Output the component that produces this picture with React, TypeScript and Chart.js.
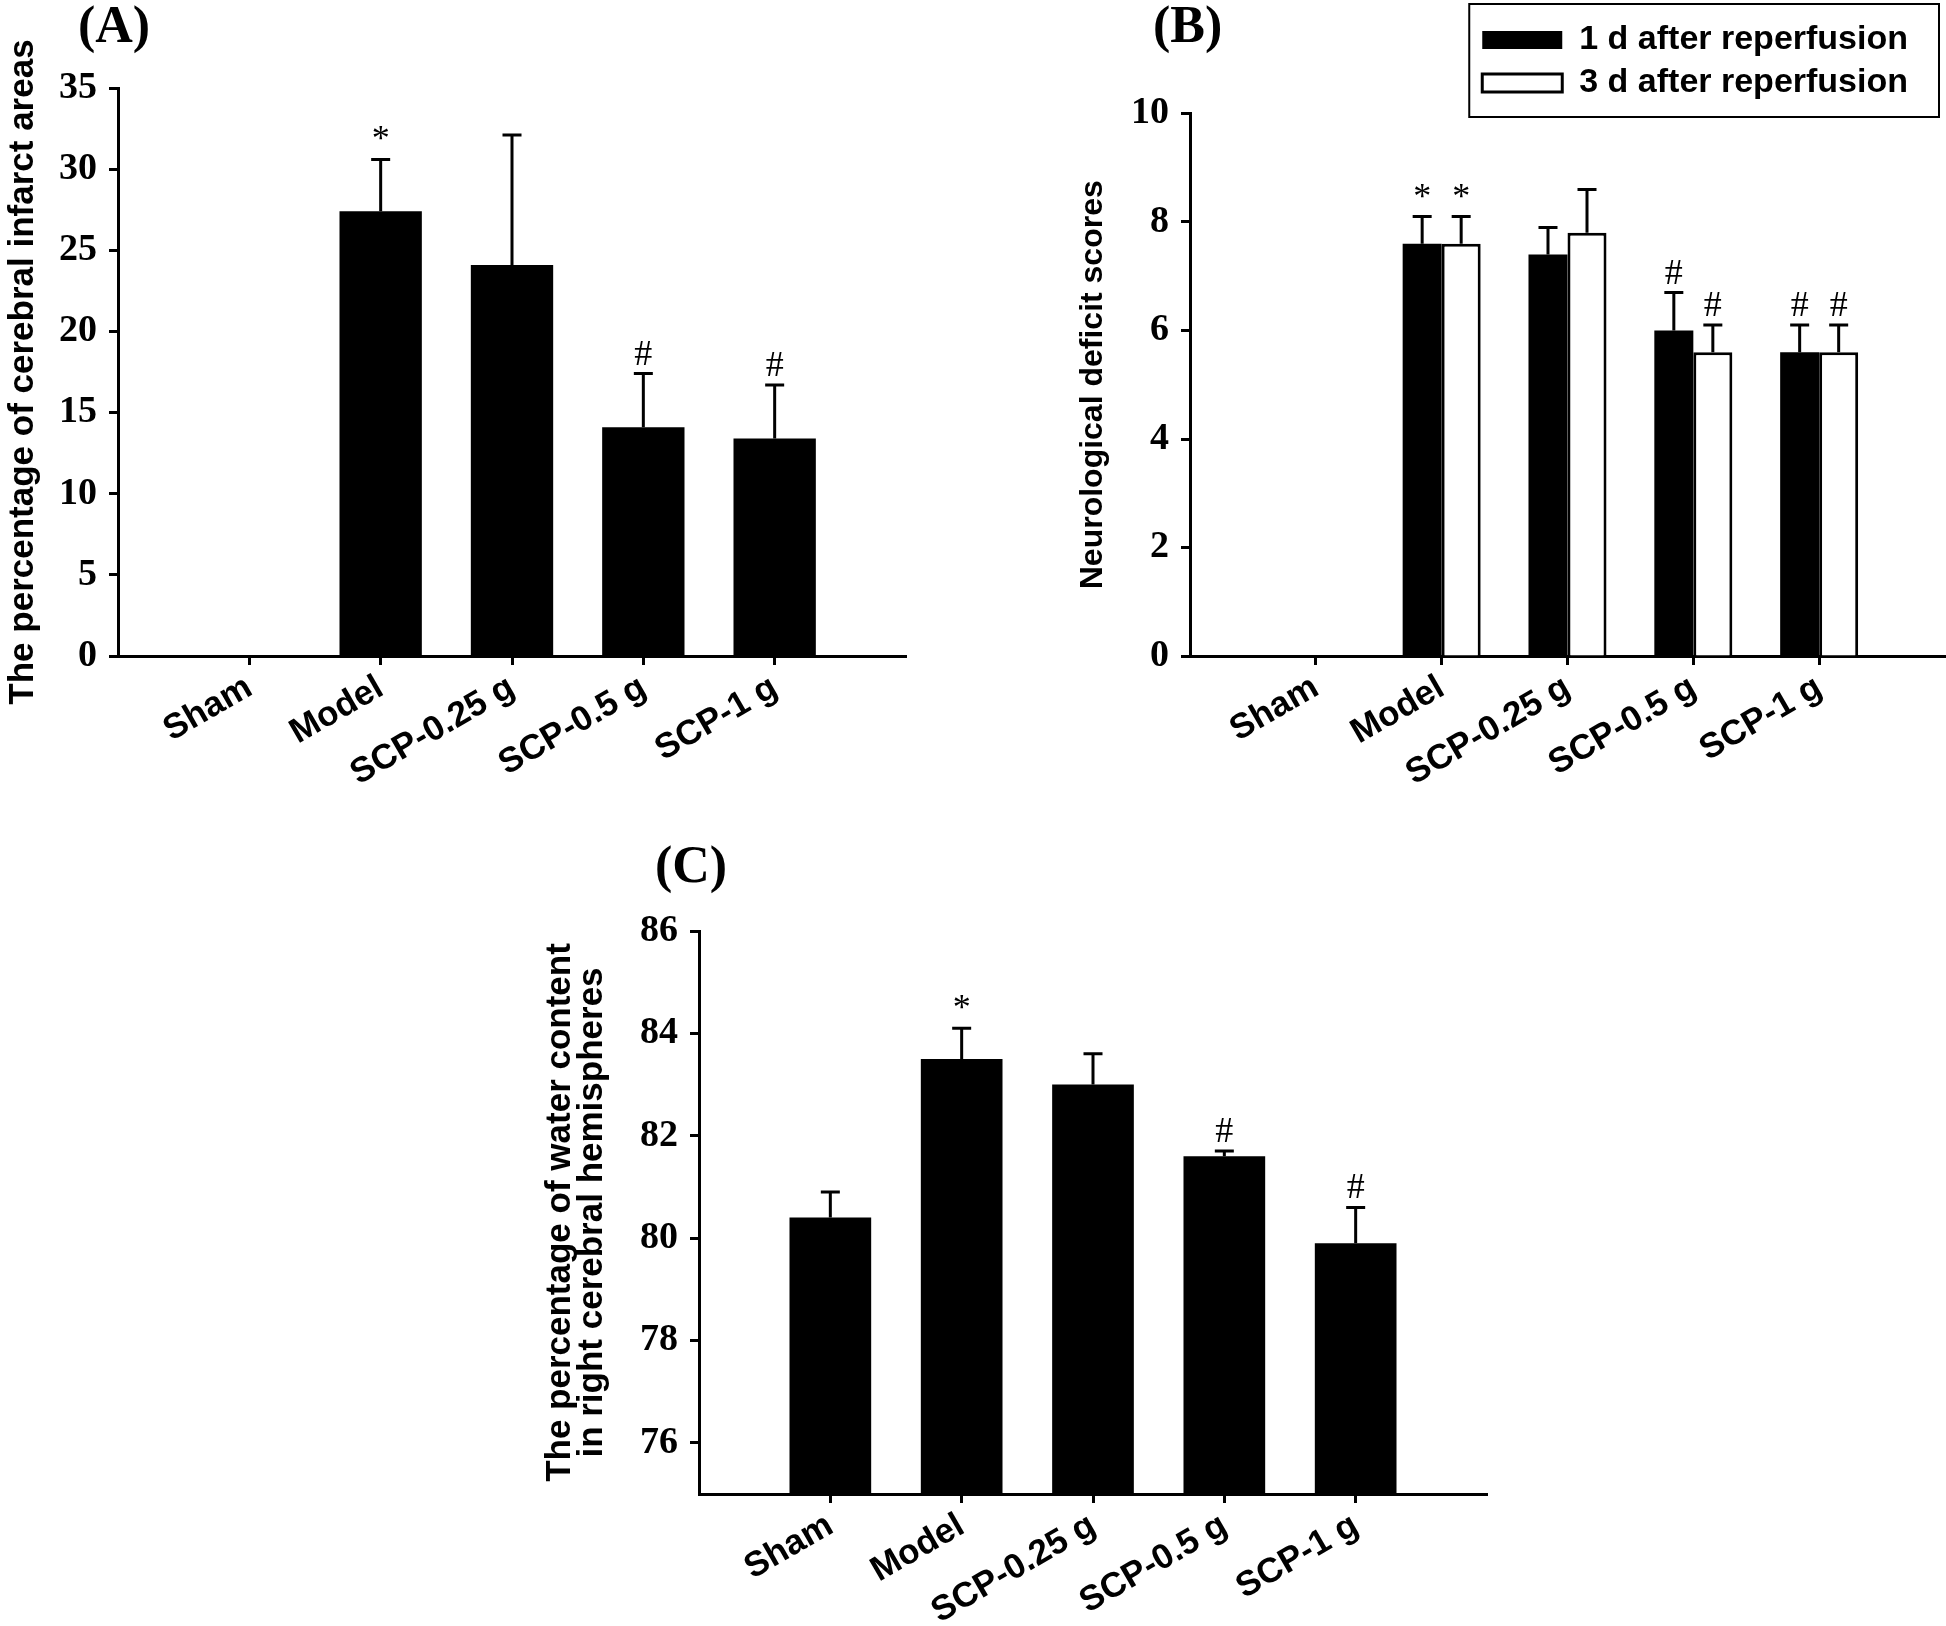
import React, { useEffect, useRef } from 'react';
import { Chart, registerables } from 'chart.js';

Chart.register(...registerables);

// ---------------- data ----------------
const categories = ['Sham', 'Model', 'SCP-0.25 g', 'SCP-0.5 g', 'SCP-1 g'];

const infarctMean = [0, 27.4, 24.1, 14.1, 13.4];
const infarctErr = [0, 3.2, 8.0, 3.3, 3.3];
const infarctSig = ['', '*', '', '#', '#'];

const seriesLabels = ['1 d after reperfusion', '3 d after reperfusion'];
const deficitDay1Mean = [0, 7.6, 7.4, 6.0, 5.6];
const deficitDay1Err = [0, 0.5, 0.5, 0.7, 0.5];
const deficitDay1Sig = ['', '*', '', '#', '#'];
const deficitDay3Mean = [0, 7.6, 7.8, 5.6, 5.6];
const deficitDay3Err = [0, 0.5, 0.8, 0.5, 0.5];
const deficitDay3Sig = ['', '*', '', '#', '#'];

const waterMean = [80.4, 83.5, 83.0, 81.6, 79.9];
const waterErr = [0.5, 0.6, 0.6, 0.1, 0.7];
const waterSig = ['', '*', '', '#', '#'];

const yRangeA = [0, 35, 5];
const yRangeB = [0, 10, 2];
const yRangeC = [75, 86, 2];

const titleA = 'The percentage of cerebral infarct areas';
const titleB = 'Neurological deficit scores';
const titleC = ['The percentage of water content', 'in right cerebral hemispheres'];
const panelLetters = ['(A)', '(B)', '(C)'];

// ---------------- helpers ----------------
const SANS = '"Liberation Sans", Arial, sans-serif';
const SERIF = '"Liberation Serif", "Times New Roman", serif';

const padArr = (arr: any[]) => [null, ...arr, null];
const paddedLabels = ['', ...categories, ''];

const errorBarPlugin = {
  id: 'errorBars',
  afterDatasetsDraw(chart: any) {
    const ctx = chart.ctx;
    const yScale = chart.scales.y;
    chart.data.datasets.forEach((ds: any, di: number) => {
      const meta = chart.getDatasetMeta(di);
      const errs = ds.errors || [];
      const sig = ds.sig || [];
      meta.data.forEach((el: any, i: number) => {
        const v = ds.data[i];
        const e = errs[i];
        if (v == null || !e) return;
        const x = el.x;
        const yTop = yScale.getPixelForValue(v + e);
        ctx.save();
        ctx.strokeStyle = '#000';
        ctx.lineWidth = 3;
        ctx.beginPath();
        ctx.moveTo(x, el.y);
        ctx.lineTo(x, yTop);
        ctx.moveTo(x - 9.5, yTop);
        ctx.lineTo(x + 9.5, yTop);
        ctx.stroke();
        if (sig[i]) {
          ctx.fillStyle = '#000';
          ctx.font = '36px ' + SERIF;
          ctx.textAlign = 'center';
          ctx.textBaseline = 'alphabetic';
          ctx.fillText(sig[i], x, yTop - 9);
        }
        ctx.restore();
      });
    });
  },
};

const panelLabelPlugin = {
  id: 'panelLabel',
  afterDraw(chart: any, _args: any, opts: any) {
    if (!opts || !opts.text) return;
    const ctx = chart.ctx;
    ctx.save();
    ctx.fillStyle = '#000';
    ctx.font = 'bold 52px ' + SERIF;
    ctx.textAlign = 'left';
    ctx.textBaseline = 'alphabetic';
    ctx.fillText(opts.text, opts.x, opts.y);
    ctx.restore();
  },
};

const legendFramePlugin = {
  id: 'legendFrame',
  afterLayout(chart: any, _args: any, opts: any) {
    const lg = chart.legend;
    if (!lg || !opts || !opts.enabled) return;
    lg.left -= opts.dx;
    lg.right -= opts.dx;
    lg.top += opts.dy;
    lg.bottom += opts.dy;
  },
  afterDraw(chart: any, _args: any, opts: any) {
    const lg = chart.legend;
    if (!lg || !opts || !opts.enabled) return;
    const p = lg.options.labels.padding;
    const fs = lg.options.labels.font.size;
    const lineW = Math.max(...lg.lineWidths);
    const rows = lg.lineWidths.length;
    const itemsLeft = lg.right - lineW;
    const itemsRight = lg.right - p;
    const rowTop = lg.top + p;
    const rowsBottom = rowTop + rows * (fs + p) - p;
    const ctx = chart.ctx;
    ctx.save();
    ctx.strokeStyle = '#000';
    ctx.lineWidth = 2;
    ctx.strokeRect(itemsLeft - 13, rowTop - 19, itemsRight - itemsLeft + 13 + 31, rowsBottom - rowTop + 19 + 17);
    ctx.restore();
  },
};

function makeConfig(p: any) {
  const n = paddedLabels.length;
  return {
    type: 'bar',
    data: { labels: paddedLabels, datasets: p.datasets },
    plugins: [errorBarPlugin, panelLabelPlugin, legendFramePlugin],
    options: {
      responsive: false,
      animation: false,
      events: [],
      layout: { padding: p.padding },
      plugins: {
        legend: p.legend || { display: false },
        tooltip: { enabled: false },
        panelLabel: p.panel,
        legendFrame: p.legendFrame || { enabled: false },
      },
      scales: {
        x: {
          type: 'category',
          offset: false,
          grid: {
            display: true,
            offset: false,
            drawOnChartArea: false,
            drawTicks: true,
            tickLength: 9,
            tickWidth: 3,
            tickColor: (c: any) => (c.index === 0 || c.index === n - 1 ? 'rgba(0,0,0,0)' : '#000'),
          },
          border: { display: true, color: '#000', width: 3 },
          ticks: {
            autoSkip: false,
            maxRotation: 30,
            minRotation: 30,
            padding: 2,
            color: '#000',
            font: { family: SANS, weight: 'bold', size: 35 },
          },
          afterFit: (s: any) => {
            s.height = p.xHeight;
            s.paddingLeft = 0;
            s.paddingRight = 0;
          },
        },
        y: {
          type: 'linear',
          min: p.yRange[0],
          max: p.yRange[1],
          beginAtZero: false,
          grid: {
            display: true,
            drawOnChartArea: false,
            drawTicks: true,
            tickLength: 9,
            tickWidth: 3,
            tickColor: '#000',
          },
          border: { display: true, color: '#000', width: 3 },
          ticks: {
            stepSize: p.yRange[2],
            includeBounds: false,
            padding: 12,
            color: '#000',
            font: { family: SERIF, weight: 'bold', size: 38 },
          },
          title: {
            display: true,
            text: p.yTitle,
            color: '#000',
            padding: { top: 0, bottom: 0 },
            font: { family: SANS, weight: 'bold', size: p.yTitleSize, lineHeight: p.yTitleLH || 1.2 },
          },
          afterFit: (s: any) => { s.width = p.yWidth; },
        },
      },
    },
  };
}

function Panel(props: { left: number; top: number; width: number; height: number; config: any }) {
  const ref = useRef<HTMLCanvasElement | null>(null);
  useEffect(() => {
    if (!ref.current) return;
    const chart = new Chart(ref.current, props.config);
    return () => chart.destroy();
  }, []);
  return (
    <canvas
      ref={ref}
      width={props.width}
      height={props.height}
      style={{ position: 'absolute', left: props.left, top: props.top, width: props.width, height: props.height }}
    />
  );
}

const configA = makeConfig({
  datasets: [
    {
      label: 'infarct',
      data: padArr(infarctMean),
      errors: padArr(infarctErr),
      sig: padArr(infarctSig),
      backgroundColor: '#000',
      borderWidth: 0,
      barPercentage: 0.627,
      categoryPercentage: 1,
    },
  ],
  padding: { left: 2, top: 88, right: 94, bottom: 0 },
  xHeight: 164,
  yWidth: 116,
  yRange: yRangeA,
  yTitle: titleA,
  yTitleSize: 35,
  panel: { text: panelLetters[0], x: 78, y: 42 },
});

const configB = makeConfig({
  datasets: [
    {
      label: seriesLabels[0],
      data: padArr(deficitDay1Mean),
      errors: padArr(deficitDay1Err),
      sig: padArr(deficitDay1Sig),
      backgroundColor: '#000',
      borderColor: '#000',
      borderWidth: 0,
      barPercentage: 1,
      categoryPercentage: 0.62,
    },
    {
      label: seriesLabels[1],
      data: padArr(deficitDay3Mean),
      errors: padArr(deficitDay3Err),
      sig: padArr(deficitDay3Sig),
      backgroundColor: '#fff',
      borderColor: '#000',
      borderWidth: 3,
      barPercentage: 1,
      categoryPercentage: 0.62,
    },
  ],
  legend: {
    display: true,
    position: 'top',
    align: 'end',
    fullSize: false,
    labels: {
      boxWidth: 80,
      boxHeight: 18,
      padding: 9,
      color: '#000',
      font: { family: SANS, weight: 'bold', size: 34 },
    },
  },
  legendFrame: { enabled: true, dx: 28, dy: -3.5 },
  padding: { left: 13.8, top: 17.5, right: 1, bottom: 0 },
  xHeight: 164,
  yWidth: 116.2,
  yRange: yRangeB,
  yTitle: titleB,
  yTitleSize: 32,
  panel: { text: panelLetters[1], x: 93, y: 42 },
});

const configC = makeConfig({
  datasets: [
    {
      label: 'water',
      data: padArr(waterMean),
      errors: padArr(waterErr),
      sig: padArr(waterSig),
      backgroundColor: '#000',
      borderWidth: 0,
      barPercentage: 0.622,
      categoryPercentage: 1,
    },
  ],
  padding: { left: 23.9, top: 111, right: 33, bottom: 0 },
  xHeight: 132,
  yWidth: 155.1,
  yRange: yRangeC,
  yTitle: titleC,
  yTitleSize: 35,
  yTitleLH: 0.92,
  panel: { text: panelLetters[2], x: 135, y: 62 },
});

export default function App() {
  return (
    <div style={{ position: 'absolute', left: 0, top: 0, width: 1946, height: 1626, background: '#fff', overflow: 'hidden' }}>
      <Panel left={0} top={0} width={1000} height={820} config={configA} />
      <Panel left={1060} top={0} width={886} height={820} config={configB} />
      <Panel left={520} top={820} width={1000} height={806} config={configC} />
    </div>
  );
}
